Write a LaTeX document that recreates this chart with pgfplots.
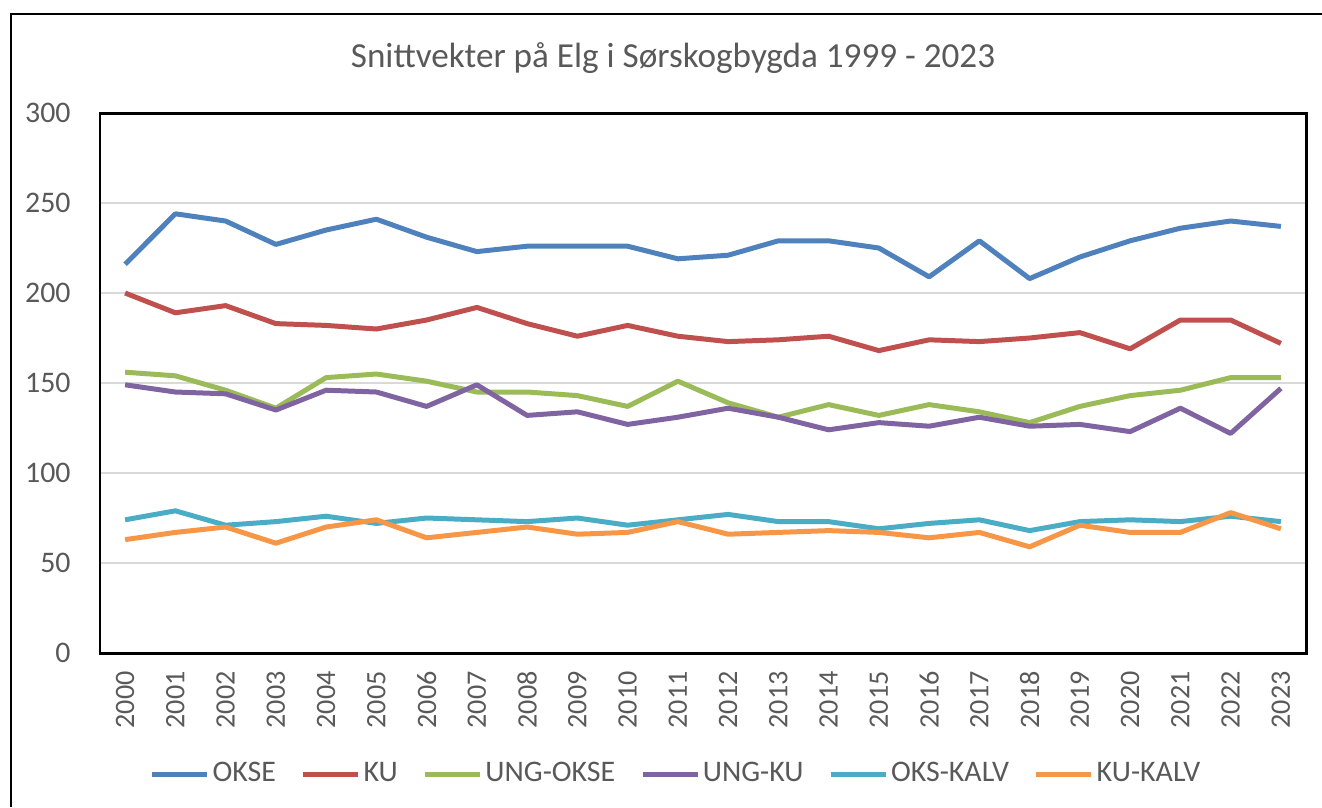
\documentclass[border=0pt]{standalone}
\usepackage{fontspec}
\setmainfont{Carlito}
\usepackage{pgfplots}
\usepackage{pgfplotstable}
\pgfplotsset{compat=1.18}
\definecolor{cOKSE}{HTML}{4F81BD}
\definecolor{cKU}{HTML}{C0504D}
\definecolor{cUO}{HTML}{9BBB59}
\definecolor{cUK}{HTML}{8064A2}
\definecolor{cOK}{HTML}{4BACC6}
\definecolor{cKK}{HTML}{F79646}
\definecolor{txt}{HTML}{595959}
\definecolor{grd}{HTML}{D9D9D9}
\pgfplotstableread{
x okse ku uo uk ok kk
0 216 200 156 149 74 63
1 244 189 154 145 79 67
2 240 193 146 144 71 70
3 227 183 136 135 73 61
4 235 182 153 146 76 70
5 241 180 155 145 72 74
6 231 185 151 137 75 64
7 223 192 145 149 74 67
8 226 183 145 132 73 70
9 226 176 143 134 75 66
10 226 182 137 127 71 67
11 219 176 151 131 74 73
12 221 173 139 136 77 66
13 229 174 131 131 73 67
14 229 176 138 124 73 68
15 225 168 132 128 69 67
16 209 174 138 126 72 64
17 229 173 134 131 74 67
18 208 175 128 126 68 59
19 220 178 137 127 73 71
20 229 169 143 123 74 67
21 236 185 146 136 73 67
22 240 185 153 122 76 78
23 237 172 153 147 73 69
}\data
\begin{document}
\begin{tikzpicture}
\useasboundingbox (0,0) rectangle (13.22,8.07);
\draw[line width=0.85pt] (0.11,0) -- (0.11,7.93) -- (13.22,7.93);
\node[font=\fontsize{10}{12}\selectfont, text=txt] at (6.73,7.49) {Snittvekter på Elg i Sørskogbygda 1999 - 2023};
\begin{axis}[
  at={(1.00cm,1.54cm)}, anchor=south west,
  width=12.06cm, height=5.40cm, scale only axis,
  xmin=-0.5, xmax=23.5, ymin=0, ymax=300,
  xtick={0,...,23},
  xticklabels={2000,2001,2002,2003,2004,2005,2006,2007,2008,2009,2010,2011,2012,2013,2014,2015,2016,2017,2018,2019,2020,2021,2022,2023},
  ytick={0,50,...,300},
  major tick length=0pt,
  ymajorgrids, grid style={grd, line width=0.6pt},
  axis line style={black, line width=0.85pt},
  tick label style={font=\fontsize{8.5}{10}\selectfont, text=txt},
  /pgf/number format/assume math mode=true,
  xticklabel style={rotate=90, anchor=east, xshift=-0.06cm, font=\fontsize{8}{10}\selectfont},
  yticklabel style={xshift=-0.17cm},
  legend columns=6,
  legend style={at={(0.478,-0.225)}, anchor=center, draw=none, fill=none,
    font=\fontsize{8.5}{10}\selectfont, text=txt,
    nodes={inner sep=0.8pt},
    /tikz/every even column/.append style={column sep=0.22cm}},
  legend image code/.code={\draw[#1, line width=1.42pt] (0cm,0cm) -- (0.55cm,0cm);},
  every axis plot/.append style={line width=1.42pt, line join=round, no marks},
]
\addplot[cOKSE] table[x=x,y=okse]{\data};
\addlegendentry{OKSE}
\addplot[cKU] table[x=x,y=ku]{\data};
\addlegendentry{KU}
\addplot[cUO] table[x=x,y=uo]{\data};
\addlegendentry{UNG-OKSE}
\addplot[cUK] table[x=x,y=uk]{\data};
\addlegendentry{UNG-KU}
\addplot[cOK] table[x=x,y=ok]{\data};
\addlegendentry{OKS-KALV}
\addplot[cKK] table[x=x,y=kk]{\data};
\addlegendentry{KU-KALV}
\end{axis}
\end{tikzpicture}
\end{document}
